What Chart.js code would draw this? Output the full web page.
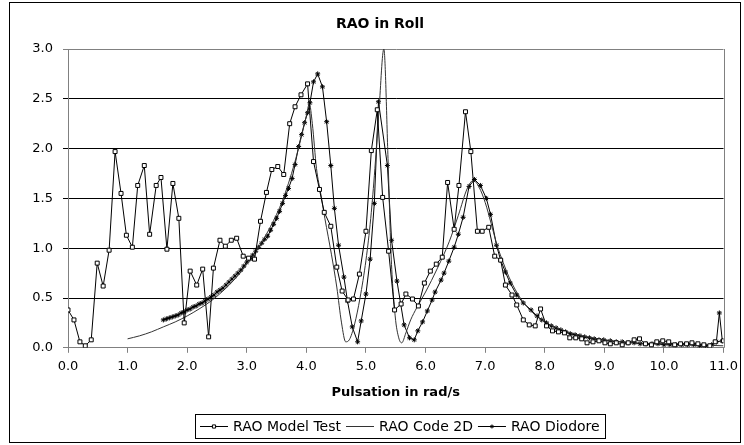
<!DOCTYPE html>
<html>
<head>
<meta charset="utf-8">
<script src="https://cdn.jsdelivr.net/npm/chart.js@4/dist/chart.umd.min.js"></script>
<style>
  html, body { margin: 0; padding: 0; background: #fff; }
  canvas { display: block; }
</style>
</head>
<body>
<canvas id="raoChart" width="744" height="445"></canvas>
<script>
const FONT = "'DejaVu Sans', Verdana, sans-serif";

// RAO Model Test (squares)
const modelX = [0.00, 0.10, 0.20, 0.29, 0.39, 0.49, 0.59, 0.69, 0.79, 0.89, 0.98, 1.08, 1.17, 1.28, 1.37, 1.48, 1.56, 1.66, 1.76, 1.86,
    1.95, 2.05, 2.16, 2.26, 2.36, 2.44, 2.55, 2.64, 2.74, 2.83, 2.94, 3.03, 3.13, 3.23, 3.33, 3.42, 3.52, 3.62, 3.72, 3.81,
    3.91, 4.02, 4.12, 4.22, 4.30, 4.41, 4.51, 4.60, 4.70, 4.79, 4.89, 5.00, 5.09, 5.19, 5.28, 5.38, 5.48, 5.59, 5.67, 5.78,
    5.88, 5.98, 6.08, 6.18, 6.28, 6.37, 6.48, 6.56, 6.67, 6.76, 6.87, 6.95, 7.06, 7.16, 7.26, 7.34, 7.45, 7.53, 7.64, 7.74,
    7.84, 7.93, 8.03, 8.13, 8.23, 8.33, 8.42, 8.52, 8.62, 8.71, 8.81, 8.91, 9.01, 9.10, 9.20, 9.30, 9.40, 9.50, 9.59, 9.69,
    9.79, 9.88, 9.98, 10.08, 10.18, 10.28, 10.38, 10.47, 10.57, 10.67, 10.77, 10.86, 11.00];
const modelY = [0.38, 0.28, 0.06, 0.02, 0.08, 0.85, 0.62, 0.98, 1.97, 1.55, 1.13, 1.01, 1.63, 1.83, 1.14, 1.63, 1.71, 0.99, 1.65, 1.30,
    0.25, 0.77, 0.63, 0.79, 0.11, 0.80, 1.08, 1.02, 1.08, 1.10, 0.92, 0.90, 0.89, 1.27, 1.56, 1.79, 1.82, 1.74, 2.25, 2.42,
    2.54, 2.65, 1.87, 1.59, 1.36, 1.22, 0.81, 0.57, 0.48, 0.49, 0.74, 1.17, 1.98, 2.39, 1.51, 0.97, 0.38, 0.44, 0.54, 0.49,
    0.42, 0.65, 0.77, 0.84, 0.91, 1.66, 1.19, 1.63, 2.37, 1.97, 1.17, 1.17, 1.21, 0.92, 0.88, 0.63, 0.53, 0.43, 0.28, 0.23,
    0.22, 0.39, 0.22, 0.17, 0.16, 0.15, 0.10, 0.10, 0.09, 0.05, 0.06, 0.07, 0.05, 0.04, 0.05, 0.03, 0.05, 0.08, 0.09, 0.04,
    0.03, 0.06, 0.07, 0.06, 0.03, 0.04, 0.04, 0.05, 0.04, 0.03, 0.02, 0.06, 0.07];

// RAO Code 2D (plain line)
const codeX = [1.00, 1.20, 1.40, 1.60, 1.80, 2.00, 2.20, 2.40, 2.60, 2.80, 3.00, 3.20, 3.40, 3.60, 3.80, 3.90, 4.00, 4.05, 4.10, 4.17,
    4.24, 4.31, 4.42, 4.51, 4.59, 4.66, 4.72, 4.81, 4.90, 5.00, 5.08, 5.15, 5.22, 5.30, 5.37, 5.42, 5.49, 5.55, 5.60, 5.67,
    5.75, 5.85, 6.00, 6.20, 6.40, 6.55, 6.70, 6.80, 6.90, 7.00, 7.10, 7.20, 7.30, 7.40, 7.50, 7.60, 7.80, 8.00, 8.20, 8.50,
    8.80, 9.00, 9.50, 10.00, 10.50, 11.00];
const codeY = [0.09, 0.12, 0.16, 0.21, 0.26, 0.32, 0.39, 0.47, 0.57, 0.69, 0.84, 1.01, 1.22, 1.48, 1.85, 2.08, 2.33, 2.45, 2.25, 1.80,
    1.55, 1.30, 0.94, 0.61, 0.25, 0.06, 0.08, 0.24, 0.50, 0.88, 1.30, 1.80, 2.40, 3.00, 1.90, 0.95, 0.32, 0.10, 0.05, 0.15,
    0.28, 0.40, 0.56, 0.80, 1.07, 1.33, 1.60, 1.68, 1.61, 1.46, 1.25, 1.03, 0.86, 0.71, 0.59, 0.49, 0.35, 0.26, 0.20, 0.14,
    0.10, 0.08, 0.05, 0.04, 0.03, 0.02];

// RAO Diodore (star marks)
const diodoreX = [1.60, 1.65, 1.70, 1.75, 1.80, 1.85, 1.90, 1.95, 2.00, 2.05, 2.10, 2.15, 2.20, 2.25, 2.30, 2.35, 2.40, 2.45, 2.50, 2.55,
    2.60, 2.65, 2.70, 2.75, 2.80, 2.85, 2.90, 2.95, 3.00, 3.05, 3.10, 3.15, 3.20, 3.25, 3.30, 3.35, 3.40, 3.45, 3.50, 3.55,
    3.60, 3.65, 3.70, 3.76, 3.81, 3.87, 3.92, 3.97, 4.02, 4.06, 4.12, 4.19, 4.27, 4.34, 4.41, 4.47, 4.54, 4.63, 4.69, 4.77,
    4.86, 4.92, 5.00, 5.07, 5.14, 5.21, 5.36, 5.43, 5.52, 5.64, 5.73, 5.81, 5.87, 5.95, 6.03, 6.11, 6.16, 6.26, 6.31, 6.39,
    6.48, 6.55, 6.63, 6.73, 6.82, 6.92, 7.02, 7.09, 7.19, 7.26, 7.34, 7.42, 7.53, 7.64, 7.77, 7.87, 7.95, 8.03, 8.11, 8.19,
    8.27, 8.35, 8.43, 8.51, 8.59, 8.67, 8.75, 8.83, 8.91, 8.99, 9.10, 9.20, 9.30, 9.40, 9.50, 9.60, 9.70, 9.80, 9.90, 10.00,
    10.10, 10.20, 10.30, 10.40, 10.50, 10.60, 10.70, 10.80, 10.88, 10.93, 10.98];
const diodoreY = [0.28, 0.29, 0.30, 0.31, 0.32, 0.33, 0.35, 0.36, 0.38, 0.39, 0.41, 0.42, 0.44, 0.45, 0.47, 0.49, 0.51, 0.53, 0.56, 0.58,
    0.60, 0.63, 0.66, 0.69, 0.72, 0.75, 0.78, 0.82, 0.86, 0.89, 0.93, 0.97, 1.01, 1.05, 1.09, 1.12, 1.18, 1.24, 1.30, 1.37,
    1.45, 1.53, 1.60, 1.70, 1.84, 2.02, 2.14, 2.26, 2.36, 2.46, 2.67, 2.75, 2.62, 2.27, 1.83, 1.40, 1.03, 0.71, 0.47, 0.21,
    0.06, 0.27, 0.54, 0.89, 1.45, 2.47, 1.83, 1.08, 0.67, 0.23, 0.10, 0.08, 0.17, 0.26, 0.37, 0.48, 0.56, 0.68, 0.75, 0.87,
    1.01, 1.14, 1.31, 1.62, 1.69, 1.63, 1.50, 1.34, 1.03, 0.88, 0.76, 0.65, 0.53, 0.45, 0.38, 0.32, 0.28, 0.25, 0.22, 0.20,
    0.18, 0.16, 0.14, 0.13, 0.12, 0.11, 0.10, 0.09, 0.08, 0.08, 0.07, 0.06, 0.06, 0.05, 0.05, 0.04, 0.04, 0.04, 0.04, 0.03,
    0.03, 0.03, 0.03, 0.03, 0.03, 0.02, 0.02, 0.03, 0.06, 0.35, 0.07];

const xTicks = [0, 1, 2, 3, 4, 5, 6, 7, 8, 9, 10, 11];
const yTicks = [0, 0.5, 1.0, 1.5, 2.0, 2.5, 3.0];
const seriesNames = ['RAO Model Test', 'RAO Code 2D', 'RAO Diodore'];
const chartTitle = 'RAO in Roll';

const toPoints = (xs, ys) => xs.map((x, i) => ({ x: x, y: ys[i] }));

// outer frame, title, right plot border and the boxed legend
const framePlugin = {
    id: 'frame',
    beforeDraw(chart) {
        const ctx = chart.ctx;
        ctx.save();
        ctx.fillStyle = '#fff';
        ctx.fillRect(0, 0, chart.width, chart.height);
        ctx.restore();
    },
    afterDraw(chart) {
        const ctx = chart.ctx;
        const a = chart.chartArea;
        ctx.save();
        ctx.strokeStyle = '#000';
        ctx.lineWidth = 1;
        ctx.strokeRect(9.5, 2.5, 731, 440);

        ctx.fillStyle = '#000';
        ctx.font = 'bold 14px ' + FONT;
        ctx.textAlign = 'center';
        ctx.textBaseline = 'middle';
        ctx.fillText(chartTitle, 380, 24);

        ctx.strokeStyle = '#808080';
        ctx.beginPath();
        ctx.moveTo(Math.round(a.right) + 0.5, a.top);
        ctx.lineTo(Math.round(a.right) + 0.5, a.bottom);
        ctx.stroke();

        // legend
        ctx.font = '14px ' + FONT;
        const symW = 28, gap = 5, itemGap = 5, pad = 5;
        const widths = seriesNames.map(n => symW + gap + ctx.measureText(n).width);
        const total = Math.round(widths.reduce((s, w) => s + w, 0) + itemGap * (seriesNames.length - 1) + pad * 2);
        const cx = 400, cy = 426;
        const left = Math.round(cx - total / 2);
        ctx.fillStyle = '#fff';
        ctx.fillRect(left, 414, total, 24);
        ctx.strokeStyle = '#000';
        ctx.strokeRect(left + 0.5, 414.5, total, 24);

        let x = left + pad;
        seriesNames.forEach((name, i) => {
            const ds = chart.data.datasets[i];
            ctx.strokeStyle = ds.borderColor;
            ctx.lineWidth = 1;
            ctx.beginPath();
            ctx.moveTo(x, cy + 0.5);
            ctx.lineTo(x + symW, cy + 0.5);
            ctx.stroke();
            if (ds.pointRadius > 0) {
                ctx.fillStyle = ds.pointBackgroundColor;
                ctx.strokeStyle = ds.pointBorderColor;
                Chart.helpers.drawPoint(ctx, {
                    pointStyle: ds.pointStyle,
                    radius: ds.pointRadius * 0.8,
                    borderWidth: 1
                }, x + symW / 2, cy + 0.5);
            }
            ctx.fillStyle = '#000';
            ctx.textAlign = 'left';
            ctx.textBaseline = 'middle';
            ctx.fillText(name, x + symW + gap, cy + 1);
            x += widths[i] + itemGap;
        });
        ctx.restore();
    }
};

new Chart(document.getElementById('raoChart').getContext('2d'), {
    type: 'scatter',
    data: {
        datasets: [
            {
                label: seriesNames[0],
                data: toPoints(modelX, modelY),
                showLine: true,
                borderColor: '#000',
                borderWidth: 1,
                pointStyle: 'rect',
                pointRadius: 2.8,
                pointBackgroundColor: '#fff',
                pointBorderColor: '#000',
                pointBorderWidth: 1,
                tension: 0
            },
            {
                label: seriesNames[1],
                data: toPoints(codeX, codeY),
                showLine: true,
                borderColor: '#333',
                borderWidth: 1,
                pointRadius: 0,
                cubicInterpolationMode: 'monotone'
            },
            {
                label: seriesNames[2],
                data: toPoints(diodoreX, diodoreY),
                showLine: true,
                borderColor: '#000',
                borderWidth: 1,
                pointStyle: 'star',
                pointRadius: 2.5,
                pointBackgroundColor: '#000',
                pointBorderColor: '#000',
                pointBorderWidth: 1,
                tension: 0
            }
        ]
    },
    options: {
        responsive: false,
        animation: false,
        devicePixelRatio: 1,
        layout: { padding: { left: 10, right: 16, top: 49, bottom: 41 } },
        plugins: {
            legend: { display: false },
            tooltip: { enabled: false },
            title: { display: false }
        },
        scales: {
            x: {
                type: 'linear',
                min: 0,
                max: 11,
                afterBuildTicks: s => { s.ticks = xTicks.map(v => ({ value: v })); },
                ticks: {
                    color: '#000',
                    font: { family: FONT, size: 13 },
                    padding: 6,
                    maxRotation: 0,
                    callback: v => Number(v).toFixed(1)
                },
                grid: { drawOnChartArea: false, drawTicks: true, tickLength: 5, color: '#808080' },
                border: { display: true, color: '#808080' },
                title: {
                    display: true,
                    text: 'Pulsation in rad/s',
                    color: '#000',
                    font: { family: FONT, size: 13, weight: 'bold' },
                    padding: { top: 4, bottom: 4 }
                }
            },
            y: {
                min: 0,
                max: 3,
                afterBuildTicks: s => { s.ticks = yTicks.map(v => ({ value: v })); },
                afterFit: s => { s.width = 58; },
                ticks: {
                    color: '#000',
                    font: { family: FONT, size: 13 },
                    padding: 10,
                    callback: v => Number(v).toFixed(1)
                },
                grid: {
                    tickLength: 5,
                    color: c => (c.tick && (c.tick.value === 0 || c.tick.value === 3)) ? '#808080' : '#000'
                },
                border: { display: true, color: '#808080' }
            }
        }
    },
    plugins: [framePlugin]
});
</script>
</body>
</html>
